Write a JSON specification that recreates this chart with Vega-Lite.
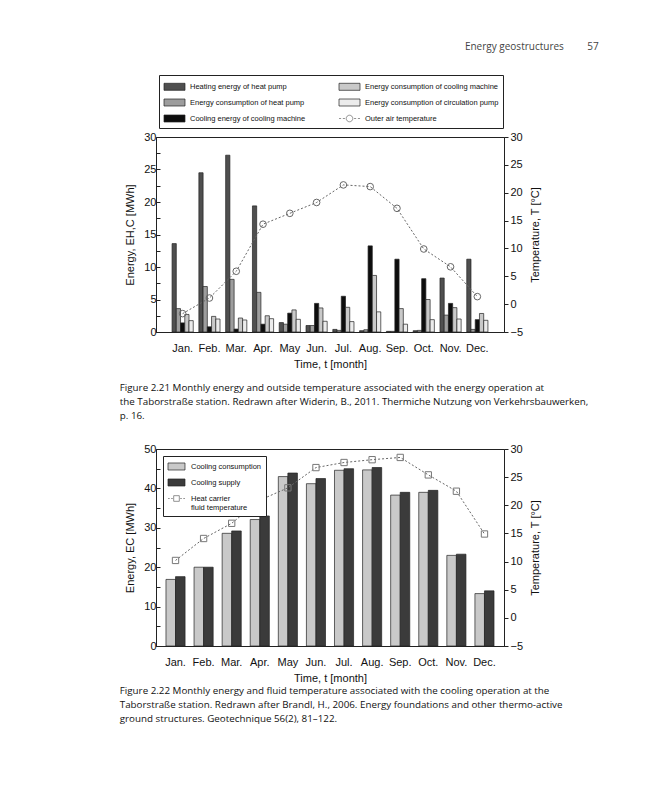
{
  "$schema": "https://vega.github.io/schema/vega-lite/v6.json",
  "padding": {"left": 119, "top": 42, "right": 0, "bottom": 0},
  "title": {"text": "Energy geostructures\u00a0\u00a0\u00a0\u00a0\u00a0\u00a0\u00a0\u00a0\u00a057", "anchor": "end", "frame": "bounds", "font": "Open Sans", "fontSize": 10, "fontWeight": "normal", "color": "#444", "offset": 22, "dx": 10},
  "spacing": 20,
  "resolve": {"scale": {"color": "independent", "xOffset": "independent"}},
  "config": {
    "font": "Liberation Sans",
    "view": {"stroke": "#222", "strokeWidth": 1},
    "axis": {"grid": false, "domainColor": "#222", "tickColor": "#222", "labelColor": "#111", "titleColor": "#111", "labelFont": "Liberation Sans", "titleFont": "Liberation Sans", "labelFontSize": 11, "titleFontSize": 11, "titleFontWeight": "normal", "labelOverlap": false},
    "axisX": {"ticks": false, "labelAngle": 0, "labelPadding": 10, "titlePadding": 5}
  },
  "datasets": {
    "energy1": [
      {"month": "Jan.", "series": "Heating energy of heat pump", "value": 13.6},
      {"month": "Jan.", "series": "Energy consumption of heat pump", "value": 3.6},
      {"month": "Jan.", "series": "Cooling energy of cooling machine", "value": 1.4},
      {"month": "Jan.", "series": "Energy consumption of cooling machine", "value": 2.7},
      {"month": "Jan.", "series": "Energy consumption of circulation pump", "value": 1.75},
      {"month": "Feb.", "series": "Heating energy of heat pump", "value": 24.5},
      {"month": "Feb.", "series": "Energy consumption of heat pump", "value": 7.0},
      {"month": "Feb.", "series": "Cooling energy of cooling machine", "value": 0.8},
      {"month": "Feb.", "series": "Energy consumption of cooling machine", "value": 2.4},
      {"month": "Feb.", "series": "Energy consumption of circulation pump", "value": 2.0},
      {"month": "Mar.", "series": "Heating energy of heat pump", "value": 27.2},
      {"month": "Mar.", "series": "Energy consumption of heat pump", "value": 8.1},
      {"month": "Mar.", "series": "Cooling energy of cooling machine", "value": 0.45},
      {"month": "Mar.", "series": "Energy consumption of cooling machine", "value": 2.15},
      {"month": "Mar.", "series": "Energy consumption of circulation pump", "value": 1.85},
      {"month": "Apr.", "series": "Heating energy of heat pump", "value": 19.4},
      {"month": "Apr.", "series": "Energy consumption of heat pump", "value": 6.1},
      {"month": "Apr.", "series": "Cooling energy of cooling machine", "value": 1.2},
      {"month": "Apr.", "series": "Energy consumption of cooling machine", "value": 2.5},
      {"month": "Apr.", "series": "Energy consumption of circulation pump", "value": 2.05},
      {"month": "May", "series": "Heating energy of heat pump", "value": 1.45},
      {"month": "May", "series": "Energy consumption of heat pump", "value": 1.2},
      {"month": "May", "series": "Cooling energy of cooling machine", "value": 2.9},
      {"month": "May", "series": "Energy consumption of cooling machine", "value": 3.4},
      {"month": "May", "series": "Energy consumption of circulation pump", "value": 1.95},
      {"month": "Jun.", "series": "Heating energy of heat pump", "value": 1.0},
      {"month": "Jun.", "series": "Energy consumption of heat pump", "value": 1.0},
      {"month": "Jun.", "series": "Cooling energy of cooling machine", "value": 4.4},
      {"month": "Jun.", "series": "Energy consumption of cooling machine", "value": 3.7},
      {"month": "Jun.", "series": "Energy consumption of circulation pump", "value": 1.65},
      {"month": "Jul.", "series": "Heating energy of heat pump", "value": 0.4},
      {"month": "Jul.", "series": "Energy consumption of heat pump", "value": 0.25},
      {"month": "Jul.", "series": "Cooling energy of cooling machine", "value": 5.5},
      {"month": "Jul.", "series": "Energy consumption of cooling machine", "value": 3.8},
      {"month": "Jul.", "series": "Energy consumption of circulation pump", "value": 1.6},
      {"month": "Aug.", "series": "Heating energy of heat pump", "value": 0.2},
      {"month": "Aug.", "series": "Energy consumption of heat pump", "value": 0.35},
      {"month": "Aug.", "series": "Cooling energy of cooling machine", "value": 13.25},
      {"month": "Aug.", "series": "Energy consumption of cooling machine", "value": 8.7},
      {"month": "Aug.", "series": "Energy consumption of circulation pump", "value": 3.1},
      {"month": "Sep.", "series": "Heating energy of heat pump", "value": 0.1},
      {"month": "Sep.", "series": "Energy consumption of heat pump", "value": 0.1},
      {"month": "Sep.", "series": "Cooling energy of cooling machine", "value": 11.2},
      {"month": "Sep.", "series": "Energy consumption of cooling machine", "value": 3.6},
      {"month": "Sep.", "series": "Energy consumption of circulation pump", "value": 1.2},
      {"month": "Oct.", "series": "Heating energy of heat pump", "value": 0.2},
      {"month": "Oct.", "series": "Energy consumption of heat pump", "value": 0.25},
      {"month": "Oct.", "series": "Cooling energy of cooling machine", "value": 8.2},
      {"month": "Oct.", "series": "Energy consumption of cooling machine", "value": 5.0},
      {"month": "Oct.", "series": "Energy consumption of circulation pump", "value": 1.9},
      {"month": "Nov.", "series": "Heating energy of heat pump", "value": 8.3},
      {"month": "Nov.", "series": "Energy consumption of heat pump", "value": 2.6},
      {"month": "Nov.", "series": "Cooling energy of cooling machine", "value": 4.4},
      {"month": "Nov.", "series": "Energy consumption of cooling machine", "value": 3.75},
      {"month": "Nov.", "series": "Energy consumption of circulation pump", "value": 2.0},
      {"month": "Dec.", "series": "Heating energy of heat pump", "value": 11.2},
      {"month": "Dec.", "series": "Energy consumption of heat pump", "value": 0.4},
      {"month": "Dec.", "series": "Cooling energy of cooling machine", "value": 1.9},
      {"month": "Dec.", "series": "Energy consumption of cooling machine", "value": 2.85},
      {"month": "Dec.", "series": "Energy consumption of circulation pump", "value": 1.8}
    ],
    "temp1": [
      {"month": "Jan.", "T": -1.7}, {"month": "Feb.", "T": 1.1}, {"month": "Mar.", "T": 5.9},
      {"month": "Apr.", "T": 14.35}, {"month": "May", "T": 16.3}, {"month": "Jun.", "T": 18.25},
      {"month": "Jul.", "T": 21.4}, {"month": "Aug.", "T": 21.1}, {"month": "Sep.", "T": 17.2},
      {"month": "Oct.", "T": 9.9}, {"month": "Nov.", "T": 6.7}, {"month": "Dec.", "T": 1.35}
    ],
    "energy2": [
      {"month": "Jan.", "series": "Cooling consumption", "value": 16.9}, {"month": "Jan.", "series": "Cooling supply", "value": 17.6},
      {"month": "Feb.", "series": "Cooling consumption", "value": 20.0}, {"month": "Feb.", "series": "Cooling supply", "value": 20.0},
      {"month": "Mar.", "series": "Cooling consumption", "value": 28.6}, {"month": "Mar.", "series": "Cooling supply", "value": 29.2},
      {"month": "Apr.", "series": "Cooling consumption", "value": 32.1}, {"month": "Apr.", "series": "Cooling supply", "value": 33.0},
      {"month": "May", "series": "Cooling consumption", "value": 43.0}, {"month": "May", "series": "Cooling supply", "value": 43.9},
      {"month": "Jun.", "series": "Cooling consumption", "value": 41.2}, {"month": "Jun.", "series": "Cooling supply", "value": 42.5},
      {"month": "Jul.", "series": "Cooling consumption", "value": 44.6}, {"month": "Jul.", "series": "Cooling supply", "value": 45.0},
      {"month": "Aug.", "series": "Cooling consumption", "value": 44.7}, {"month": "Aug.", "series": "Cooling supply", "value": 45.3},
      {"month": "Sep.", "series": "Cooling consumption", "value": 38.3}, {"month": "Sep.", "series": "Cooling supply", "value": 39.0},
      {"month": "Oct.", "series": "Cooling consumption", "value": 39.0}, {"month": "Oct.", "series": "Cooling supply", "value": 39.5},
      {"month": "Nov.", "series": "Cooling consumption", "value": 23.0}, {"month": "Nov.", "series": "Cooling supply", "value": 23.3},
      {"month": "Dec.", "series": "Cooling consumption", "value": 13.3}, {"month": "Dec.", "series": "Cooling supply", "value": 14.0}
    ],
    "temp2": [
      {"month": "Jan.", "T": 10.2}, {"month": "Feb.", "T": 14.1}, {"month": "Mar.", "T": 16.8},
      {"month": "Apr.", "T": 20.9}, {"month": "May", "T": 23.1}, {"month": "Jun.", "T": 26.7},
      {"month": "Jul.", "T": 27.6}, {"month": "Aug.", "T": 28.1}, {"month": "Sep.", "T": 28.5},
      {"month": "Oct.", "T": 25.4}, {"month": "Nov.", "T": 22.5}, {"month": "Dec.", "T": 14.9}
    ]
  },
  "vconcat": [
    {
      "width": 348,
      "height": 195,
      "title": {
        "text": [
          "Figure 2.21 Monthly energy and outside temperature associated with the energy operation at",
          "the Taborstraße station. Redrawn after Widerin, B., 2011. Thermiche Nutzung von Verkehrsbauwerken,",
          "p. 16."
        ],
        "orient": "bottom", "anchor": "start", "frame": "bounds", "font": "Open Sans", "fontSize": 9.8, "fontWeight": "normal", "lineHeight": 14, "offset": 14, "dx": -5, "color": "#111"
      },
      "layer": [
        {
          "data": {"name": "energy1"},
          "mark": {"type": "bar", "stroke": "#222", "strokeWidth": 0.7},
          "encoding": {
            "x": {"field": "month", "type": "nominal", "title": "Time, t [month]",
              "scale": {"domain": ["Jan.","Feb.","Mar.","Apr.","May","Jun.","Jul.","Aug.","Sep.","Oct.","Nov.","Dec."], "paddingInner": 0.21, "paddingOuter": 0.6}},
            "xOffset": {"field": "series", "type": "nominal",
              "scale": {"domain": ["Heating energy of heat pump","Energy consumption of heat pump","Cooling energy of cooling machine","Energy consumption of cooling machine","Energy consumption of circulation pump"]}},
            "y": {"field": "value", "type": "quantitative", "scale": {"domain": [0, 30], "nice": false},
              "axis": {"title": "Energy, EH,C [MWh]", "values": [0,2.5,5,7.5,10,12.5,15,17.5,20,22.5,25,27.5,30], "labelExpr": "datum.value % 5 == 0 ? '' + datum.value : ''", "tickSize": -4, "labelPadding": 4, "titlePadding": 8, "labelOverlap": false}},
            "color": {"field": "series", "type": "nominal",
              "scale": {"domain": ["Heating energy of heat pump","Energy consumption of heat pump","Cooling energy of cooling machine","Energy consumption of cooling machine","Energy consumption of circulation pump","Outer air temperature"],
                        "range": ["#4f4f4f","#9d9d9d","#0d0d0d","#c9c9c9","#ececec","#ffffff"]},
              "legend": {"orient": "none", "legendX": 3, "legendY": -62, "title": null, "columns": 2, "columnPadding": 31, "rowPadding": 3, "symbolSize": 196, "symbolOffset": 4,
                "labelFontSize": 7.5, "labelFont": "Liberation Sans", "labelColor": "#111", "labelOffset": 8, "labelLimit": 300, "strokeColor": "#222", "padding": 4,
                "symbolStrokeWidth": 0.7, "symbolStrokeColor": "#222",
                "encode": {"symbols": {"update": {
                  "shape": {"signal": "datum.value === 'Outer air temperature' ? 'M-1.5,0H-1.2M-0.95,0H-0.65M0.65,0H0.95M1.2,0H1.5M-0.47,0A0.47,0.47,0,1,1,0.47,0A0.47,0.47,0,1,1,-0.47,0' : 'M-1.5,-0.5H1.5V0.5H-1.5Z'"},
                  "stroke": {"signal": "datum.value === 'Outer air temperature' ? '#666' : '#222'"}
                }}}}}
          }
        },
        {
          "layer": [
            {
              "data": {"name": "temp1"},
              "mark": {"type": "line", "stroke": "#666", "strokeDash": [2, 2], "strokeWidth": 1},
              "encoding": {
                "x": {"field": "month", "type": "nominal", "title": "Time, t [month]"},
                "y": {"field": "T", "type": "quantitative", "scale": {"domain": [-5, 30], "nice": false},
                  "axis": {"orient": "right", "title": "Temperature, T [°C]", "titleAngle": 270, "titleBaseline": "top", "values": [-5,0,5,10,15,20,25,30], "tickSize": 4, "labelPadding": 2, "titlePadding": 7, "labelOverlap": false}}
              }
            },
            {
              "data": {"name": "temp1"},
              "mark": {"type": "point", "shape": "circle", "filled": false, "stroke": "#666", "size": 44, "strokeWidth": 1, "opacity": 1},
              "encoding": {
                "x": {"field": "month", "type": "nominal", "title": "Time, t [month]"},
                "y": {"field": "T", "type": "quantitative", "scale": {"domain": [-5, 30], "nice": false},
                  "axis": {"orient": "right", "title": "Temperature, T [°C]", "titleAngle": 270, "titleBaseline": "top", "values": [-5,0,5,10,15,20,25,30], "tickSize": 4, "labelPadding": 2, "titlePadding": 7, "labelOverlap": false}}
              }
            }
          ]
        }
      ],
      "resolve": {"scale": {"y": "independent"}}
    },
    {
      "width": 348,
      "height": 197,
      "title": {
        "text": [
          "Figure 2.22 Monthly energy and fluid temperature associated with the cooling operation at the",
          "Taborstraße station. Redrawn after Brandl, H., 2006. Energy foundations and other thermo-active",
          "ground structures. Geotechnique 56(2), 81–122."
        ],
        "orient": "bottom", "anchor": "start", "frame": "bounds", "font": "Open Sans", "fontSize": 9.8, "fontWeight": "normal", "lineHeight": 14, "offset": 3, "dx": -5, "color": "#111"
      },
      "layer": [
        {
          "data": {"name": "energy2"},
          "mark": {"type": "bar", "stroke": "#222", "strokeWidth": 0.7},
          "encoding": {
            "x": {"field": "month", "type": "nominal", "title": "Time, t [month]",
              "scale": {"domain": ["Jan.","Feb.","Mar.","Apr.","May","Jun.","Jul.","Aug.","Sep.","Oct.","Nov.","Dec."], "paddingInner": 0.32, "paddingOuter": 0.355}},
            "xOffset": {"field": "series", "type": "nominal", "scale": {"domain": ["Cooling consumption","Cooling supply"]}},
            "y": {"field": "value", "type": "quantitative", "scale": {"domain": [0, 50], "nice": false},
              "axis": {"title": "Energy, EC [MWh]", "values": [0,5,10,15,20,25,30,35,40,45,50], "labelExpr": "datum.value % 10 == 0 ? '' + datum.value : ''", "tickSize": -4, "labelPadding": 4, "titlePadding": 8, "labelOverlap": false}},
            "color": {"field": "series", "type": "nominal",
              "scale": {"domain": ["Cooling consumption","Cooling supply","Heat carrier fluid temperature"], "range": ["#c9c9c9","#3b3b3b","#ffffff"]},
              "legend": {"orient": "top-left", "title": null, "direction": "vertical", "offset": 7, "rowPadding": 4, "symbolSize": 128, "symbolOffset": 3,
                "labelFontSize": 7.5, "labelFont": "Liberation Sans", "labelColor": "#111", "labelOffset": 8, "labelLimit": 300, "strokeColor": "#222", "fillColor": "#ffffff", "padding": 4,
                "symbolStrokeWidth": 0.7, "symbolStrokeColor": "#222",
                "labelExpr": "datum.label === 'Heat carrier fluid temperature' ? ['Heat carrier', 'fluid temperature'] : datum.label",
                "encode": {"symbols": {"update": {
                  "shape": {"signal": "datum.value === 'Heat carrier fluid temperature' ? 'M-1.5,0H-1.2M-0.95,0H-0.65M0.65,0H0.95M1.2,0H1.5M-0.5,-0.5H0.5V0.5H-0.5Z' : 'M-1.5,-0.62H1.5V0.62H-1.5Z'"},
                  "stroke": {"signal": "datum.value === 'Heat carrier fluid temperature' ? '#666' : '#222'"}
                }}}}}
          }
        },
        {
          "layer": [
            {
              "data": {"name": "temp2"},
              "mark": {"type": "line", "stroke": "#666", "strokeDash": [2, 2], "strokeWidth": 1},
              "encoding": {
                "x": {"field": "month", "type": "nominal", "title": "Time, t [month]"},
                "y": {"field": "T", "type": "quantitative", "scale": {"domain": [-5, 30], "nice": false},
                  "axis": {"orient": "right", "title": "Temperature, T [°C]", "titleAngle": 270, "titleBaseline": "top", "values": [-5,0,5,10,15,20,25,30], "tickSize": 4, "labelPadding": 2, "titlePadding": 7, "labelOverlap": false}}
              }
            },
            {
              "data": {"name": "temp2"},
              "mark": {"type": "point", "shape": "square", "filled": false, "stroke": "#777", "size": 40, "strokeWidth": 1, "opacity": 1},
              "encoding": {
                "x": {"field": "month", "type": "nominal", "title": "Time, t [month]"},
                "y": {"field": "T", "type": "quantitative", "scale": {"domain": [-5, 30], "nice": false},
                  "axis": {"orient": "right", "title": "Temperature, T [°C]", "titleAngle": 270, "titleBaseline": "top", "values": [-5,0,5,10,15,20,25,30], "tickSize": 4, "labelPadding": 2, "titlePadding": 7, "labelOverlap": false}}
              }
            }
          ]
        }
      ],
      "resolve": {"scale": {"y": "independent"}}
    }
  ]
}
